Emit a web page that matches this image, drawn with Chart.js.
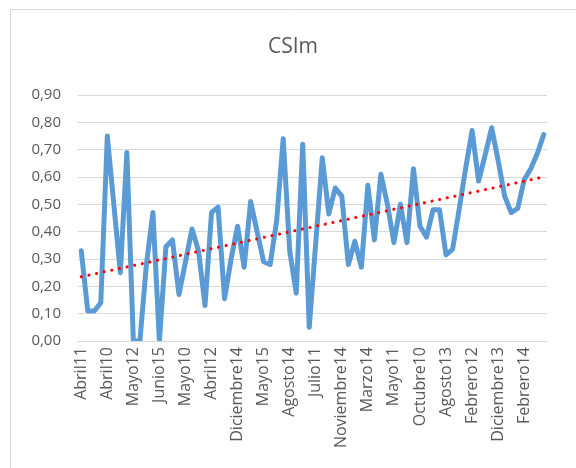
<!DOCTYPE html>
<html><head><meta charset="utf-8">
<script src="https://cdn.jsdelivr.net/npm/chart.js@4.4.0/dist/chart.umd.min.js"></script>
<style>html,body{margin:0;padding:0;background:#fff}#wrap{width:576px;height:468px;position:relative}</style>
</head><body><div id="wrap"><canvas id="c" width="576" height="468"></canvas></div>
<script>
const chartTitle = 'CSIm';
const tickLabels = ['Abril11','Abril10','Mayo12','Junio15','Mayo10','Abril12','Diciembre14','Mayo15','Agosto14','Julio11','Noviembre14','Marzo14','Mayo11','Octubre10','Agosto13','Febrero12','Diciembre13','Febrero14'];
const csim = [
  0.33, 0.11, 0.11, 0.14, 0.75, 0.50, 0.25, 0.69, 0.00, 0.00,
  0.28, 0.47, 0.00, 0.345, 0.37, 0.17, 0.29, 0.41, 0.33, 0.13,
  0.47, 0.49, 0.155, 0.30, 0.42, 0.27, 0.51, 0.40, 0.29, 0.28,
  0.44, 0.74, 0.33, 0.175, 0.72, 0.05, 0.36, 0.67, 0.465, 0.56,
  0.53, 0.28, 0.365, 0.27, 0.57, 0.37, 0.61, 0.50, 0.36, 0.50,
  0.36, 0.63, 0.42, 0.38, 0.48, 0.48, 0.315, 0.335, 0.48, 0.63,
  0.77, 0.585, 0.68, 0.78, 0.66, 0.53, 0.47, 0.485, 0.59, 0.63,
  0.685, 0.755
];
const trendEnds = [0.235, 0.60];
const yMin = 0, yMax = 0.9, yStep = 0.1;

const categories = csim.map((_, i) => i % 4 === 0 ? tickLabels[i / 4] : '');
const trend = csim.map((_, i) => i === 0 ? trendEnds[0] : (i === csim.length - 1 ? trendEnds[1] : null));

const FONT = "'Open Sans', 'Liberation Sans', sans-serif";
const TXT = '#595959';

const framePlugin = {
  id: 'frame',
  beforeDraw(chart) {
    const ctx = chart.ctx;
    ctx.save();
    ctx.fillStyle = '#fff';
    ctx.fillRect(0, 0, chart.width, chart.height);
    ctx.strokeStyle = '#D9D9D9';
    ctx.lineWidth = 1;
    ctx.beginPath();
    ctx.moveTo(10.5, chart.height);
    ctx.lineTo(10.5, 9.5);
    ctx.lineTo(chart.width, 9.5);
    ctx.stroke();
    ctx.restore();
  },
  afterDraw(chart) {
    const ctx = chart.ctx;
    ctx.save();
    ctx.fillStyle = TXT;
    ctx.font = "21px " + FONT;
    ctx.textAlign = 'center';
    ctx.textBaseline = 'middle';
    ctx.fillText(chartTitle, 293, 47);
    ctx.restore();
  }
};

new Chart(document.getElementById('c'), {
  type: 'line',
  data: {
    labels: categories,
    datasets: [
      {
        label: 'CSIm',
        data: csim,
        borderColor: '#5B9BD5',
        backgroundColor: '#5B9BD5',
        borderWidth: 5,
        tension: 0,
        pointRadius: 0,
        borderJoinStyle: 'round',
        borderCapStyle: 'round',
        fill: false,
        order: 2
      },
      {
        label: 'Tendencia',
        data: trend,
        borderColor: '#FF0000',
        borderWidth: 3,
        borderDash: [0.1, 7.7],
        borderCapStyle: 'round',
        pointRadius: 0,
        spanGaps: true,
        tension: 0,
        fill: false,
        order: 1
      }
    ]
  },
  options: {
    responsive: false,
    animation: false,
    devicePixelRatio: 1,
    layout: { padding: { left: 0, right: 29, top: 95, bottom: 0 } },
    plugins: { legend: { display: false }, title: { display: false }, tooltip: { enabled: false } },
    scales: {
      x: {
        offset: true,
        grid: { display: false, drawTicks: false },
        border: { display: false },
        ticks: {
          autoSkip: false,
          minRotation: 90,
          maxRotation: 90,
          padding: 6,
          color: TXT,
          font: { family: FONT, size: 16 }
        },
        afterFit(scale) { scale.height = 127; }
      },
      y: {
        min: yMin,
        max: yMax,
        grid: { color: '#D9D9D9', lineWidth: 1, drawTicks: false },
        border: { display: false },
        ticks: {
          stepSize: yStep,
          padding: 17,
          color: TXT,
          font: { family: FONT, size: 15 },
          callback: v => v.toFixed(2).replace('.', ',')
        },
        afterFit(scale) { scale.width = 78; }
      }
    }
  },
  plugins: [framePlugin]
});
</script>
</body></html>
